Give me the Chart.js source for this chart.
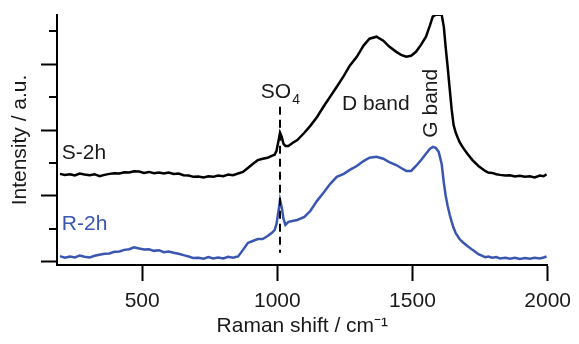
<!DOCTYPE html>
<html>
<head>
<meta charset="utf-8">
<script src="https://cdn.jsdelivr.net/npm/chart.js@4.4.1/dist/chart.umd.min.js"></script>
<style>
  html, body { margin: 0; padding: 0; background: #fff; }
  #wrap { width: 579px; height: 344px; }
</style>
</head>
<body>
<div id="wrap"><canvas id="raman"></canvas></div>
<script>
/* ── Data ─────────────────────────────────────────────── */

// Raman shift, cm-1 (shared by both spectra)
const ramanShift = [
  196, 214, 233, 251, 269, 287, 306, 324, 342, 361, 379, 397, 416, 434, 452, 470, 489, 507, 525,
  544, 562, 580, 598, 617, 635, 653, 672, 690, 708, 727, 745, 763, 781, 800, 818, 836, 855,
  873, 891, 909, 928, 946, 964, 979, 990, 997, 1005,
  1010, 1016, 1023, 1030, 1041, 1056, 1074, 1100, 1122, 1147,
  1173, 1195, 1220, 1246, 1268, 1294, 1319, 1341, 1367, 1392,
  1414, 1440, 1458, 1477, 1495, 1513, 1532, 1550, 1564, 1575,
  1586, 1597, 1608, 1616, 1623, 1630, 1638, 1645, 1652, 1660,
  1674, 1685, 1703, 1722, 1744, 1769, 1780, 1795, 1810, 1824, 1843, 1861, 1879, 1897,
  1916, 1934, 1952, 1971, 1985, 1996,
];

// S-2h spectrum (offset upward), a.u.
const s2h = [
  2.67, 2.64, 2.66, 2.62, 2.68, 2.65, 2.63, 2.66, 2.60, 2.64, 2.67, 2.69, 2.68, 2.72, 2.71, 2.75, 2.74, 2.70, 2.73,
  2.69, 2.71, 2.68, 2.71, 2.67, 2.68, 2.63, 2.62, 2.58, 2.59, 2.56, 2.60, 2.58, 2.62, 2.60, 2.65, 2.63, 2.68,
  2.73, 2.85, 2.97, 3.09, 3.13, 3.16, 3.22, 3.25, 3.37, 3.70,
  3.92, 3.80, 3.58, 3.52, 3.52, 3.61, 3.70, 3.92, 4.13, 4.40,
  4.74, 5.01, 5.32, 5.65, 5.96, 6.23, 6.57, 6.78, 6.84, 6.72,
  6.54, 6.38, 6.29, 6.23, 6.26, 6.38, 6.60, 6.84, 7.17, 7.45,
  7.51, 7.51, 7.51, 7.14, 6.50, 5.93, 5.23, 4.62, 4.16, 3.92,
  3.64, 3.49, 3.28, 3.09, 2.91, 2.76, 2.71, 2.70, 2.66, 2.64, 2.62, 2.63, 2.59, 2.61,
  2.58, 2.60, 2.56, 2.62, 2.60, 2.66,
];

// R-2h spectrum, a.u.
const r2h = [
  0.17, 0.12, 0.16, 0.13, 0.19, 0.15, 0.13, 0.18, 0.21, 0.24, 0.25, 0.30, 0.31, 0.36, 0.38, 0.44, 0.40, 0.37, 0.38,
  0.33, 0.35, 0.29, 0.31, 0.27, 0.24, 0.20, 0.16, 0.11, 0.12, 0.09, 0.14, 0.10, 0.13, 0.10, 0.15, 0.12, 0.16,
  0.36, 0.57, 0.63, 0.69, 0.69, 0.78, 0.87, 0.96, 1.15, 1.57,
  1.88, 1.66, 1.30, 1.12, 1.21, 1.24, 1.27, 1.36, 1.54, 1.85,
  2.12, 2.36, 2.58, 2.67, 2.79, 2.91, 3.06, 3.16, 3.19, 3.13,
  3.03, 2.94, 2.85, 2.76, 2.76, 2.91, 3.09, 3.28, 3.43, 3.49,
  3.46, 3.34, 2.97, 2.40, 2.00, 1.70, 1.42, 1.21, 1.03, 0.87,
  0.69, 0.60, 0.48, 0.36, 0.23, 0.14, 0.16, 0.12, 0.14, 0.10, 0.12, 0.09, 0.12, 0.08,
  0.11, 0.09, 0.12, 0.10, 0.13, 0.16,
];

// Dashed SO4 marker
const so4LineX = [1010, 1010];
const so4LineY = [4.71, 0.27];

// Axis ticks
const xTicks = [500, 1000, 1500, 2000];
const yMajorTicks = [0, 2, 4, 6];
const yMinorTicks = [1, 3, 5, 7];

/* ── Styling ───────────────────────────────────────────── */

const FONT = "'Liberation Sans', Arial, Helvetica, sans-serif";
const TEXT = "#1a1a1a";
const BLACK = "#000000";
const BLUE = "rgb(58, 86, 176)";

// Text annotations, anchored in data coordinates (left / baseline)
const annotations = [
  { text: "S-2h", x: 203, y: 3.11, color: TEXT },
  { text: "R-2h", x: 203, y: 0.96, color: BLUE },
  { text: "D band", x: 1239, y: 4.62, color: TEXT },
  { text: "G band", x: 1590, y: 3.77, color: TEXT, rotate: true },
];

/* ── Plugin: minor y ticks + labels ─────────────────────── */

const decorations = {
  id: "decorations",
  afterDatasetsDraw(chart) {
    const { ctx, chartArea, scales } = chart;
    const xs = scales.x;
    const ys = scales.y;
    ctx.save();

    // minor ticks on the intensity axis
    ctx.strokeStyle = BLACK;
    ctx.lineWidth = 2;
    for (const v of yMinorTicks) {
      const py = Math.round(ys.getPixelForValue(v));
      ctx.beginPath();
      ctx.moveTo(chartArea.left - 8, py);
      ctx.lineTo(chartArea.left, py);
      ctx.stroke();
    }

    ctx.font = `21px ${FONT}`;
    ctx.textBaseline = "alphabetic";
    ctx.textAlign = "left";
    for (const a of annotations) {
      const px = xs.getPixelForValue(a.x);
      const py = ys.getPixelForValue(a.y);
      ctx.fillStyle = a.color;
      if (a.rotate) {
        ctx.save();
        ctx.translate(px, py);
        ctx.rotate(-Math.PI / 2);
        ctx.fillText(a.text, 0, 0);
        ctx.restore();
      } else {
        ctx.fillText(a.text, px, py);
      }
    }

    // SO4 with subscript
    const sx = xs.getPixelForValue(939);
    const sy = ys.getPixelForValue(4.97);
    ctx.fillStyle = TEXT;
    ctx.fillText("SO", sx, sy);
    const w = ctx.measureText("SO").width;
    ctx.font = `14px ${FONT}`;
    ctx.fillText("4", sx + w + 1, sy + 6);

    ctx.restore();
  },
};

/* ── Chart ─────────────────────────────────────────────── */

const toPoints = (xs, ys) => xs.map((x, i) => ({ x, y: ys[i] }));

new Chart(document.getElementById("raman"), {
  type: "line",
  data: {
    datasets: [
      {
        label: "SO4",
        data: toPoints(so4LineX, so4LineY),
        borderColor: BLACK,
        borderWidth: 2,
        borderDash: [8, 5],
        pointRadius: 0,
      },
      {
        label: "S-2h",
        data: toPoints(ramanShift, s2h),
        borderColor: BLACK,
        borderWidth: 2.5,
        pointRadius: 0,
        tension: 0,
      },
      {
        label: "R-2h",
        data: toPoints(ramanShift, r2h),
        borderColor: BLUE,
        borderWidth: 2.5,
        pointRadius: 0,
        tension: 0,
      },
    ],
  },
  options: {
    responsive: true,
    maintainAspectRatio: false,
    animation: false,
    devicePixelRatio: 1,
    layout: { padding: { left: 0, right: 26, top: 15, bottom: 0 } },
    plugins: { legend: { display: false }, tooltip: { enabled: false } },
    scales: {
      x: {
        type: "linear",
        position: "bottom",
        min: 185,
        max: 2000,
        afterBuildTicks: (axis) => { axis.ticks = xTicks.map((v) => ({ value: v })); },
        afterFit: (scale) => { scale.height = 79; },
        ticks: {
          color: TEXT,
          font: { family: FONT, size: 21 },
          padding: 8,
          maxRotation: 0,
          autoSkip: false,
          callback: (v) => String(v),
        },
        grid: { drawOnChartArea: false, drawTicks: true, tickLength: 16, tickWidth: 2, tickColor: BLACK },
        border: { color: BLACK, width: 2 },
        title: {
          display: true,
          text: "Raman shift / cm\u207B\u00B9",
          color: TEXT,
          font: { family: FONT, size: 21 },
          padding: { top: 0, bottom: 5 },
        },
      },
      y: {
        position: "left",
        min: -0.1,
        max: 7.5,
        afterBuildTicks: (axis) => { axis.ticks = yMajorTicks.map((v) => ({ value: v })); },
        afterFit: (scale) => { scale.width = 57; },
        ticks: { display: false },
        grid: { drawOnChartArea: false, drawTicks: true, tickLength: 16, tickWidth: 2, tickColor: BLACK },
        border: { color: BLACK, width: 2 },
        title: {
          display: true,
          text: "Intensity / a.u.",
          color: TEXT,
          font: { family: FONT, size: 21 },
          padding: { top: 8, bottom: 0 },
        },
      },
    },
  },
  plugins: [decorations],
});
</script>
</body>
</html>
